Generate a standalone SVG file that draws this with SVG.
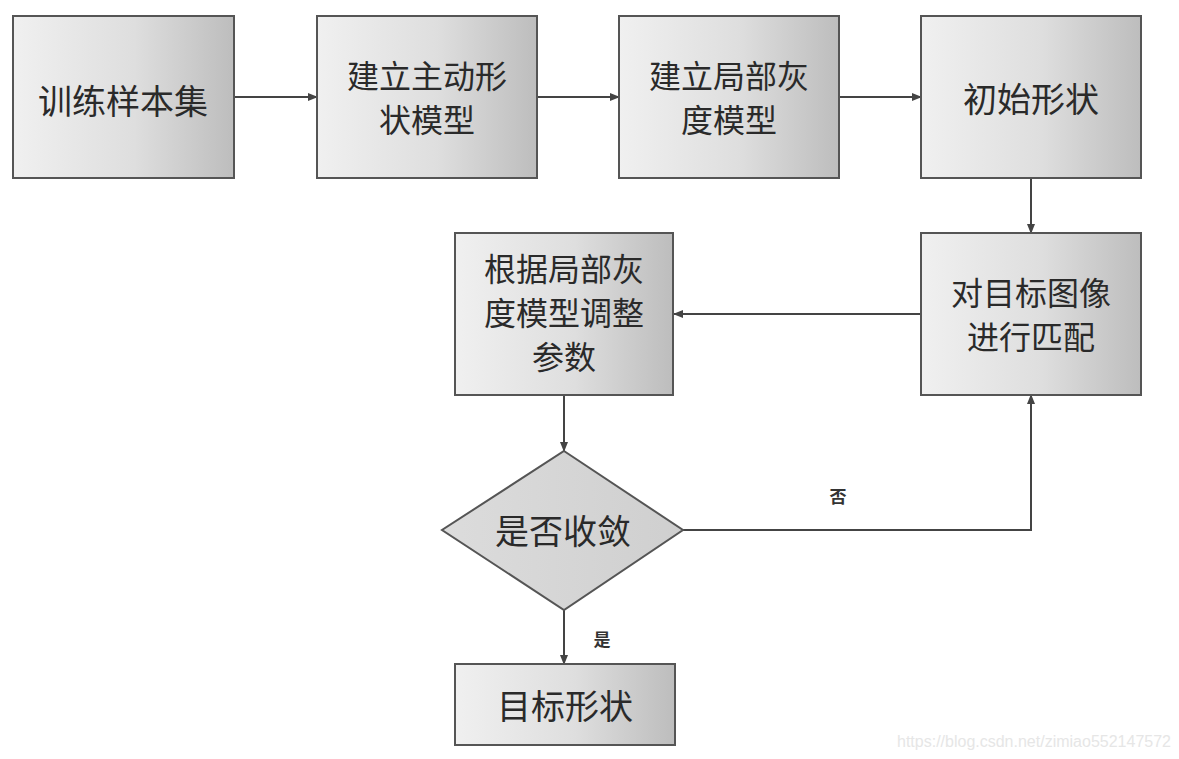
<svg xmlns="http://www.w3.org/2000/svg" width="1179" height="759" viewBox="0 0 1179 759">
<defs>
<linearGradient id="g" x1="0" y1="0" x2="1" y2="0">
<stop offset="0" stop-color="#f0f0f0"/>
<stop offset="0.55" stop-color="#dedede"/>
<stop offset="1" stop-color="#bdbdbd"/>
</linearGradient>
<linearGradient id="gd" x1="0" y1="0" x2="1" y2="0">
<stop offset="0" stop-color="#dcdcdc"/>
<stop offset="1" stop-color="#cfcfcf"/>
</linearGradient>
<marker id="ah" markerWidth="10" markerHeight="8" refX="9" refY="4" orient="auto" markerUnits="userSpaceOnUse">
<path d="M0,0 L10,4 L0,8 Z" fill="#444"/>
</marker>
</defs>
<style>
.box{fill:url(#g);stroke:#555;stroke-width:2}
.dia{fill:url(#gd);stroke:#555;stroke-width:2}
.t{font-family:"Noto Sans CJK SC","Noto Sans",sans-serif;font-size:34px;fill:#2a2a2a;text-anchor:middle;dominant-baseline:central}
.m{font-size:32px}
.lbl{font-family:"Noto Sans CJK SC","Noto Sans",sans-serif;font-size:17px;font-weight:bold;fill:#333;text-anchor:middle;dominant-baseline:central}
.c{fill:none;stroke:#444;stroke-width:2;marker-end:url(#ah)}
.wm{font-family:"Liberation Sans",Arial,sans-serif;font-size:16px;fill:#e6e6e6}
</style>
<rect width="1179" height="759" fill="#ffffff"/>
<g id="connectors">
<path class="c" d="M234,97 L317,97"/>
<path class="c" d="M537,97 L619,97"/>
<path class="c" d="M839,97 L921,97"/>
<path class="c" d="M1031,178 L1031,233"/>
<path class="c" d="M921,314 L674,314"/>
<path class="c" d="M564,395 L564,451"/>
<path class="c" d="M683,530 L1031,530 L1031,395"/>
<path class="c" d="M564,610 L564,664"/>
<text class="lbl" x="838" y="495">否</text>
<text class="lbl" x="602" y="638">是</text>
</g>
<g id="n1"><rect class="box" x="13" y="16" width="221" height="162"/><text class="t" x="123" y="99">训练样本集</text></g>
<g id="n2"><rect class="box" x="317" y="16" width="220" height="162"/><text class="t m" x="427" y="74">建立主动形</text><text class="t m" x="427" y="118">状模型</text></g>
<g id="n3"><rect class="box" x="619" y="16" width="220" height="162"/><text class="t m" x="729" y="74">建立局部灰</text><text class="t m" x="729" y="118">度模型</text></g>
<g id="n4"><rect class="box" x="921" y="16" width="220" height="162"/><text class="t" x="1031" y="97">初始形状</text></g>
<g id="n5"><rect class="box" x="921" y="233" width="220" height="162"/><text class="t m" x="1031" y="291">对目标图像</text><text class="t m" x="1031" y="335">进行匹配</text></g>
<g id="n6"><rect class="box" x="455" y="233" width="218" height="162"/><text class="t m" x="564" y="267">根据局部灰</text><text class="t m" x="564" y="311">度模型调整</text><text class="t m" x="564" y="355">参数</text></g>
<g id="n7"><polygon class="dia" points="564,451 683,530 564,610 442,530"/><text class="t" x="563" y="529">是否收敛</text></g>
<g id="n8"><rect class="box" x="455" y="664" width="220" height="81"/><text class="t" x="565" y="704">目标形状</text></g>
<text class="wm" x="897" y="747">https://blog.csdn.net/zimiao552147572</text>
</svg>
